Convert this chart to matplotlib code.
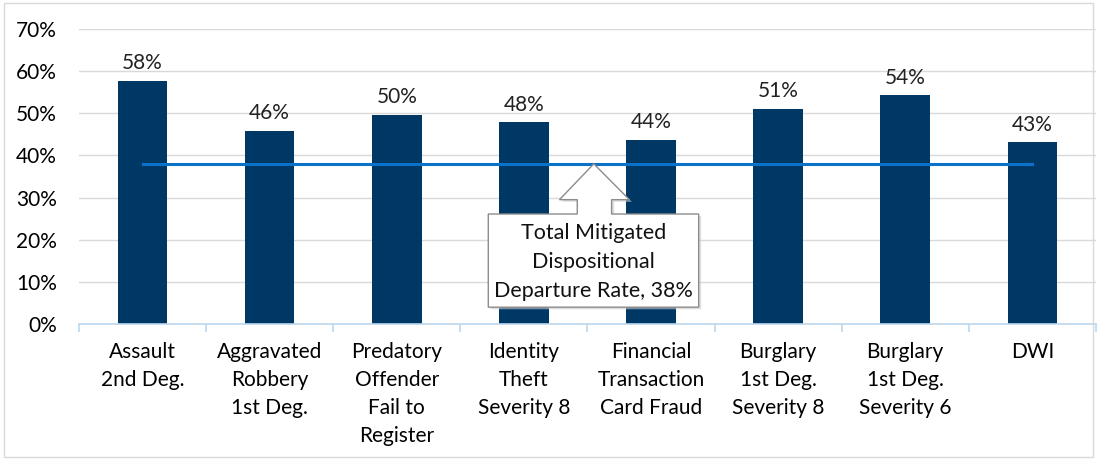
import numpy as np
import matplotlib.pyplot as plt
from matplotlib.patches import Polygon, Rectangle

plt.rc('font', family=['Lato', 'DejaVu Sans'], size=15)

categories = ['Assault\n2nd Deg.', 'Aggravated\nRobbery\n1st Deg.', 'Predatory\nOffender\nFail to\nRegister',
              'Identity\nTheft\nSeverity 8', 'Financial\nTransaction\nCard Fraud', 'Burglary\n1st Deg.\nSeverity 8',
              'Burglary\n1st Deg.\nSeverity 6', 'DWI']
rates = [57.7, 45.9, 49.6, 47.9, 43.7, 51.1, 54.3, 43.1]
total_rate = 38.0

bar_color = '#003865'
line_color = '#0A72C8'

fig = plt.figure(figsize=(10.97, 4.59), dpi=100)
ax = fig.add_axes([0.072, 0.294, 0.927, 0.643])
x = np.arange(len(categories))

ax.bar(x, rates, width=0.39, color=bar_color, zorder=2)
for xi, r in zip(x, rates):
    ax.text(xi, r + 1.8, '%d%%' % round(r), ha='center', va='bottom', fontsize=15, color='#222222')

ax.plot([x[0], x[-1]], [total_rate, total_rate], color=line_color, lw=2.2, zorder=3)

# callout box with arrow pointing at the total line
bl, br, bb, bt = 2.72, 4.375, 4.0, 26.1
sl, sr, hl, hr, hb = 3.42, 3.69, 3.28, 3.83, 29.5
tip = (3.55, total_rate)
pts = [(bl, bb), (br, bb), (br, bt), (sr, bt), (sr, hb), (hr, hb), tip,
       (hl, hb), (sl, hb), (sl, bt), (bl, bt)]
shadow = Polygon([(px + 0.02, py - 0.5) for px, py in pts], closed=True, facecolor='#cccccc',
                 edgecolor='none', zorder=4, alpha=0.6)
ax.add_patch(shadow)
ax.add_patch(Polygon(pts, closed=True, facecolor='white', edgecolor='#8c8c8c', lw=1.0, zorder=5))
ax.text((bl + br) / 2, (bb + bt) / 2 - 0.4, 'Total Mitigated\nDispositional\nDeparture Rate, %d%%' % total_rate,
        ha='center', va='center', fontsize=15.5, linespacing=1.55, color='#111111', zorder=6)

ax.set_xlim(-0.5, len(categories) - 0.5)
ax.set_ylim(0, 70)
ax.set_yticks(np.arange(0, 71, 10))
ax.set_yticklabels(['%d%%' % v for v in range(0, 71, 10)])
ax.yaxis.grid(True, color='#d9d9d9', lw=1.0, zorder=0)
ax.set_axisbelow(True)
ax.tick_params(axis='y', length=0, pad=16, labelsize=15)

ax.set_xticks(x)
ax.set_xticklabels(categories, linespacing=1.5)
ax.tick_params(axis='x', length=0, pad=13, labelsize=15)
ax.set_xticks(np.arange(-0.5, len(categories), 1), minor=True)
ax.tick_params(axis='x', which='minor', length=6, color='#bdd7ee', width=1.2)

for s in ['top', 'right', 'left']:
    ax.spines[s].set_visible(False)
ax.spines['bottom'].set_color('#bdd7ee')
ax.spines['bottom'].set_linewidth(1.2)

fig.patches.append(Rectangle((0.004, 0.004), 0.992, 0.99, transform=fig.transFigure,
                             fill=False, edgecolor='#d9d9d9', lw=1.0))

plt.savefig('out.png', dpi=100)
